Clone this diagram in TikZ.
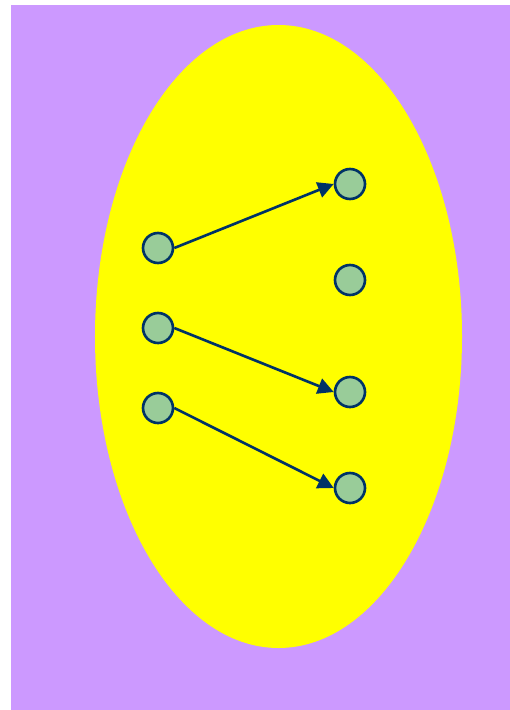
\documentclass[tikz,border=0pt]{standalone}
\usetikzlibrary{arrows.meta}
\definecolor{bgpurple}{HTML}{CC99FF}
\definecolor{setyellow}{HTML}{FFFF00}
\definecolor{dotgreen}{HTML}{99CC99}
\definecolor{navy}{HTML}{003366}
\begin{document}
\begin{tikzpicture}
  [x=0.02cm,y=-0.02cm,every node/.style={circle,fill=dotgreen,draw=navy,line width=1.5pt,minimum size=0.6cm,inner sep=0pt}]
  \useasboundingbox (0,0) rectangle (510,710);
  \fill[bgpurple] (11,5) rectangle (510,710);
  \fill[setyellow] (278.5,336.5) ellipse [x radius=183.5cm*0.02, y radius=311.5cm*0.02];
  \node (a1) at (158,248) {};
  \node (a2) at (158,328) {};
  \node (a3) at (158,408) {};
  \node (b1) at (350,184) {};
  \node (b2) at (350,280) {};
  \node (b3) at (350,392) {};
  \node (b4) at (350,488) {};

  \foreach \from/\to in {a1/b1, a2/b3, a3/b4}
    \draw[navy,line width=1.5pt,-{Triangle[length=9pt,width=9pt]}] (\from.east) -- (\to.west);
\end{tikzpicture}
\end{document}
